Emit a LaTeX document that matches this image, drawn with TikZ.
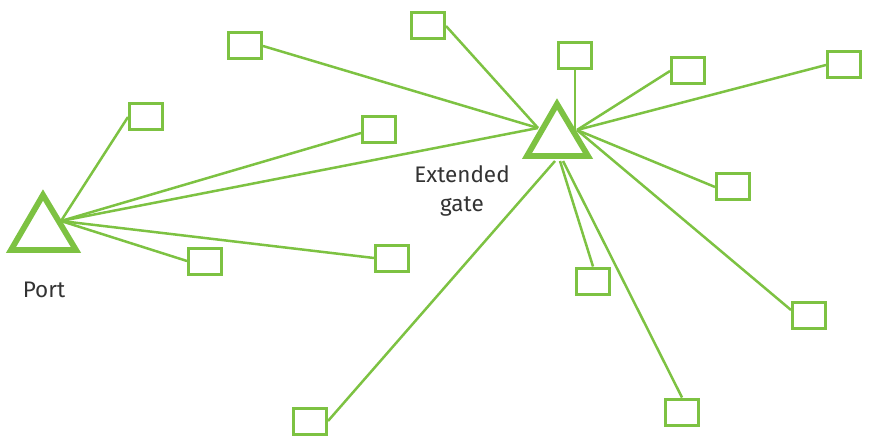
\documentclass[tikz,border=0pt]{standalone}
\usepackage{fontspec}
\setmainfont{Fira Sans}
\definecolor{gr}{HTML}{7DC242}
\definecolor{tx}{HTML}{333333}
\begin{document}
\begin{tikzpicture}[x=1pt,y=-1pt,
  boxn/.style={draw=gr,line width=3pt,minimum width=33pt,minimum height=26pt,inner sep=0pt},
  link/.style={draw=gr,line width=2.5pt},
  tri/.style={draw=gr,line width=5.8pt,line join=miter},
  lbl/.style={text=tx,font=\fontsize{22.5}{29}\selectfont,align=center}]
\useasboundingbox (0,0) rectangle (869,438);
% triangles
\coordinate (pA) at (43,195);
\coordinate (pL) at (11,250);
\coordinate (pR) at (76,250);
\coordinate (pC) at (61,221);
\draw[tri] (pA) -- (pL) -- (pR) -- cycle;
\coordinate (gA) at (557,104);
\coordinate (gL) at (527,156);
\coordinate (gR) at (588,156);
\coordinate (gW) at (538,128);
\coordinate (gE) at (577,130);
\coordinate (gB1) at (555,161);
\coordinate (gB2) at (560,161);
\coordinate (gB3) at (563,161);
\draw[tri] (gA) -- (gL) -- (gR) -- cycle;
% boxes
\node[boxn] (b1) at (245,46) {};
\node[boxn] (b2) at (428,26) {};
\node[boxn] (b3) at (575,56) {};
\node[boxn] (b4) at (688,71) {};
\node[boxn] (b5) at (844,65) {};
\node[boxn] (b6) at (146,117) {};
\node[boxn] (b7) at (379,130) {};
\node[boxn] (b8) at (733,187) {};
\node[boxn] (b9) at (205,261) {};
\node[boxn] (b10) at (392,258) {};
\node[boxn] (b11) at (593,281) {};
\node[boxn] (b12) at (809,315) {};
\node[boxn] (b13) at (310,421) {};
\node[boxn] (b14) at (682,412) {};
% links from port
\draw[link] (pC) -- (b6.west);
\draw[link] (pC) -- ([yshift=-3pt]b7.west);
\draw[link] (pC) -- (gW);
\draw[link] (pC) -- (b9.west);
\draw[link] (pC) -- (b10.west);
% links from gate
\draw[link] (gW) -- (b1.east);
\draw[link] (gW) -- (b2.east);
\draw[link] (b3.south) -- (b3.south |- gE);
\draw[link] (gE) -- (b4.west);
\draw[link] (gE) -- (b5.west);
\draw[link] (gE) -- (b8.west);
\draw[link] (gE) -- ([yshift=5pt]b12.west);
\draw[link] (gB1) -- (b13.east);
\draw[link] (gB2) -- (b11.north);
\draw[link] (gB3) -- (b14.north);
% labels
\node[lbl] (lp) at (44,290) {Port};
\node[lbl] (lg) at (462,191) {Extended\\gate};
\end{tikzpicture}
\end{document}
